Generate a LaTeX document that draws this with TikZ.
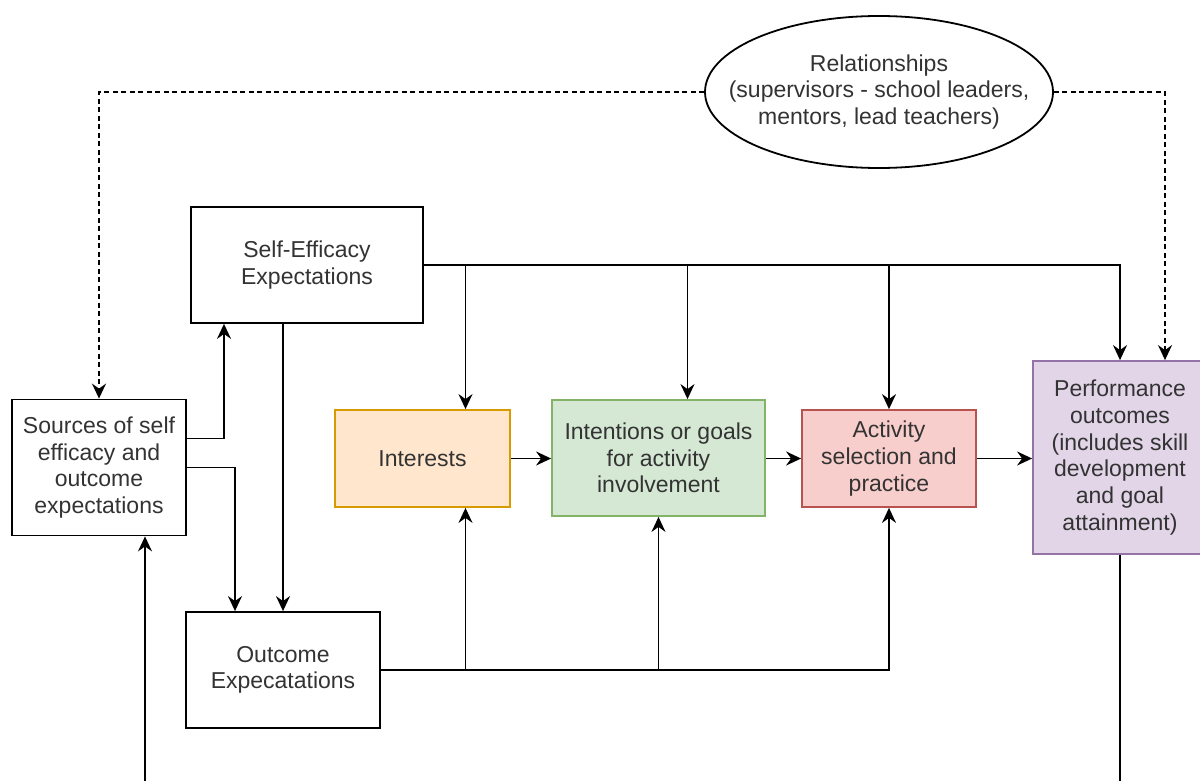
\documentclass[tikz,border=0pt]{standalone}
\usepackage{fontspec}
\setmainfont{Liberation Sans}
\usetikzlibrary{shapes.geometric,arrows.meta,calc}
\definecolor{orfill}{HTML}{FFE6CC}\definecolor{ordraw}{HTML}{D79B00}
\definecolor{grfill}{HTML}{D5E8D4}\definecolor{grdraw}{HTML}{82B366}
\definecolor{rdfill}{HTML}{F8CECC}\definecolor{rddraw}{HTML}{B85450}
\definecolor{pufill}{HTML}{E1D5E7}\definecolor{pudraw}{HTML}{9673A6}
\definecolor{txt}{HTML}{333333}
\tikzset{
  box/.style={draw=black, line width=1.8pt, fill=white, align=center, inner sep=0pt,
    font=\fontsize{23}{26.7}\selectfont, text=txt},
  arr/.style={line width=1.8pt, -{Stealth[length=15pt,width=14pt,inset=5pt]}},
  dsh/.style={dash pattern=on 5pt off 3.5pt},
}
\begin{document}
\begin{tikzpicture}[x=1pt,y=-1pt]
\useasboundingbox (0,0) rectangle (1200,781);
\clip (0,0) rectangle (1200,781);
\fill[white] (0,0) rectangle (1200,781);

\draw[line width=1.8pt, fill=white] (879,92) ellipse [x radius=174, y radius=76];
\node[box, draw=none, fill=none, minimum width=348pt, minimum height=152pt] (rel) at (879,92)
  {Relationships\\(supervisors - school leaders,\\mentors, lead teachers)};
\node[box, minimum width=232pt, minimum height=116pt] (se) at (307,265)
  {Self-Efficacy\\Expectations};
\node[box, minimum width=174pt, minimum height=136pt] (src) at (99,467.5)
  {Sources of self\\efficacy and\\outcome\\expectations};
\node[box, minimum width=194pt, minimum height=116pt] (oe) at (283,670)
  {Outcome\\Expecatations};
\node[box, fill=orfill, draw=ordraw, minimum width=175pt, minimum height=97pt] (ints) at (422.5,458.5)
  {Interests};
\node[box, fill=grfill, draw=grdraw, minimum width=213pt, minimum height=116pt] (intn) at (658.5,458)
  {Intentions or goals\\for activity\\involvement};
\node[box, fill=rdfill, draw=rddraw, minimum width=174pt, minimum height=97pt] (act) at (889,458.5)
  {Activity\\selection and\\practice};
\node[box, fill=pufill, draw=pudraw, minimum width=174pt, minimum height=193pt] (perf) at (1120,457.5)
  {Performance\\outcomes\\(includes skill\\development\\and goal\\attainment)};

\coordinate (intsT) at ([xshift=43pt]ints.north);
\coordinate (intsB) at ([xshift=43pt]ints.south);
\coordinate (intnT) at ([xshift=29pt]intn.north);
\coordinate (bot) at (0,820);

% dashed relationship links
\draw[arr,dsh] (rel.west) -| (src.north);
\draw[arr,dsh] (rel.east) -| ([xshift=45pt]perf.north);

% self-efficacy outputs
\draw[arr] (se.east) -| (perf.north);
\draw[arr] (intsT |- se.east) -- (intsT);
\draw[arr] (intnT |- se.east) -- (intnT);
\draw[arr] (act.north |- se.east) -- (act.north);
\draw[arr] (se.south -| oe.north) -- (oe.north);

% sources outputs
\draw[arr] ([yshift=29pt]src.east) -| ([xshift=-83pt]se.south);
\draw[arr] (src.east) -| ([xshift=-48pt]oe.north);

% outcome expectations outputs
\draw[arr] (oe.east) -| (act.south);
\draw[arr] (intsB |- oe.east) -- (intsB);
\draw[arr] (intn.south |- oe.east) -- (intn.south);

% main chain
\draw[arr] (ints.east) -- (ints.east -| intn.west);
\draw[arr] (intn.east |- act.west) -- (act.west);
\draw[arr] (act.east) -- (act.east -| perf.west);

% feedback loop
\draw[arr] (perf.south) -- (perf.south |- bot) -| ([xshift=46pt]src.south);
\end{tikzpicture}
\end{document}
